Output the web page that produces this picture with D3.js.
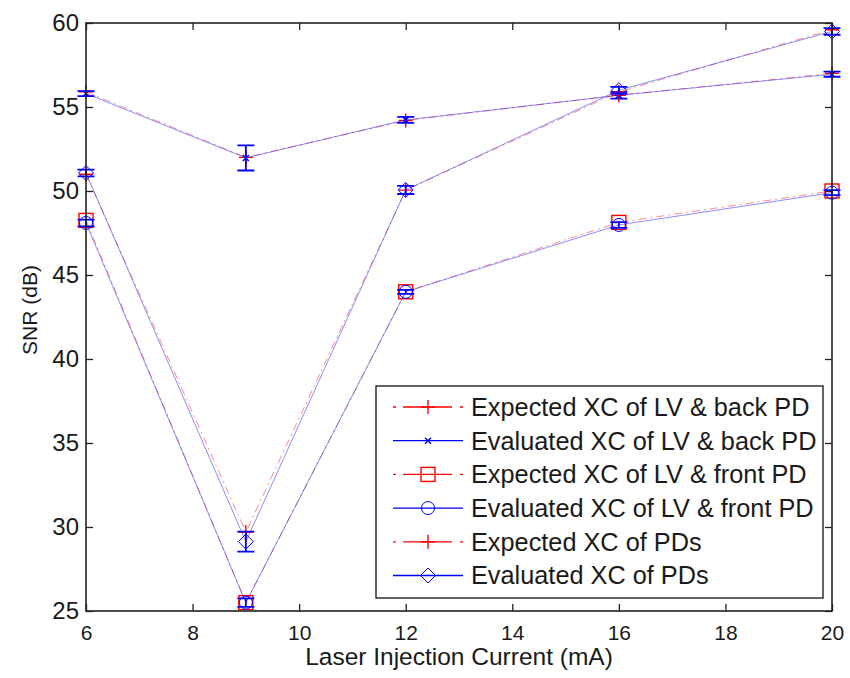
<!DOCTYPE html>
<html><head><meta charset="utf-8">
<script src="https://cdn.jsdelivr.net/npm/d3@7"></script>
<style>body{margin:0;background:#fff}svg{display:block}</style>
</head><body>
<svg id="c" width="850" height="678"></svg>
<script>
// ---- data ----
const currents = [6, 9, 12, 16, 20];
const expBack = [55.9, 52.0, 54.2, 55.7, 57.0];
const evalBack = [55.8, 51.97, 54.23, 55.7, 56.95];
const evalBackErr = [0.15, 0.75, 0.18, 0.2, 0.15];
const expFront = [48.25, 25.5, 44.0, 48.13, 50.0];
const evalFront = [48.1, 25.5, 44.0, 47.98, 49.9];
const evalFrontErr = [0.2, 0.25, 0.12, 0.17, 0.15];
const expPDs = [51.0, 29.7, 50.05, 55.9, 59.6];
const evalPDs = [51.07, 29.13, 50.06, 56.0, 59.5];
const evalPDsErr = [0.2, 0.6, 0.24, 0.2, 0.2];
const xTicks = [6, 8, 10, 12, 14, 16, 18, 20];
const yTicks = [25, 30, 35, 40, 45, 50, 55, 60];
const legendLabels = ["Expected XC of LV & back PD", "Evaluated XC of LV & back PD",
  "Expected XC of LV & front PD", "Evaluated XC of LV & front PD",
  "Expected XC of PDs", "Evaluated XC of PDs"];
const xTitle = "Laser Injection Current (mA)";
const yTitle = "SNR (dB)";

// ---- layout ----
const L = 86, R = 832, T = 23, B = 611;
const FONT = "'Liberation Sans', Arial, sans-serif";
const RED = "#ff0000", BLUE = "#0000ff";
const svg = d3.select("#c");
const x = d3.scaleLinear().domain([6, 20]).range([L, R]);
const y = d3.scaleLinear().domain([25, 60]).range([B, T]);

// marker shapes
function marker(g, type, cx, cy, color) {
  const s = g.append("g").attr("fill", "none").attr("stroke", color).attr("stroke-width", 1.4);
  if (type === "plus") {
    s.append("path").attr("d", `M${cx-7},${cy}H${cx+7}M${cx},${cy-7}V${cy+7}`);
  } else if (type === "x") {
    s.append("path").attr("d", `M${cx-3},${cy-3}L${cx+3},${cy+3}M${cx-3},${cy+3}L${cx+3},${cy-3}`);
  } else if (type === "square") {
    s.append("rect").attr("x", cx-7).attr("y", cy-7).attr("width", 14).attr("height", 14);
  } else if (type === "circle") {
    s.append("circle").attr("cx", cx).attr("cy", cy).attr("r", 6.5).attr("stroke-width", 1);
  } else if (type === "diamond") {
    s.append("path").attr("stroke-width", 1).attr("d", `M${cx},${cy-7.5}L${cx+7.5},${cy}L${cx},${cy+7.5}L${cx-7.5},${cy}Z`);
  }
}

const series = [
  {vals: expBack, color: RED, dash: "8,4,2,4", m: "plus"},
  {vals: evalBack, err: evalBackErr, color: BLUE, dash: null, m: "x"},
  {vals: expFront, color: RED, dash: "8,4,2,4", m: "square"},
  {vals: evalFront, err: evalFrontErr, color: BLUE, dash: null, m: "circle"},
  {vals: expPDs, color: RED, dash: "8,4,2,4", m: "plus"},
  {vals: evalPDs, err: evalPDsErr, color: BLUE, dash: null, m: "diamond"}
];

const line = d3.line().x((d, i) => x(currents[i])).y(d => y(d));
const plot = svg.append("g");
series.forEach(s => {
  plot.append("path").datum(s.vals).attr("d", line)
    .attr("fill", "none").attr("stroke", s.color).attr("stroke-width", 1)
    .attr("stroke-opacity", 0.45)
    .attr("stroke-dasharray", s.dash);
  if (s.err) {
    s.vals.forEach((v, i) => {
      const cx = x(currents[i]), y1 = y(v + s.err[i]), y2 = y(v - s.err[i]);
      plot.append("path").attr("fill", "none").attr("stroke", s.color).attr("stroke-width", 1.8)
        .attr("d", `M${cx},${y1}V${y2}M${cx-8.5},${y1}H${cx+8.5}M${cx-8.5},${y2}H${cx+8.5}`);
    });
  }
  s.vals.forEach((v, i) => marker(plot, s.m, x(currents[i]), y(v), s.color));
});

// ---- axes ----
const ax = svg.append("g").attr("font-family", FONT);
const gx = ax.append("g").attr("transform", `translate(0,${B})`)
  .call(d3.axisBottom(x).tickValues(xTicks).tickFormat(d3.format("d")).tickSizeInner(-7).tickSizeOuter(0).tickPadding(14));
gx.selectAll("text").attr("font-size", 21);
const gy = ax.append("g").attr("transform", `translate(${L},0)`)
  .call(d3.axisLeft(y).tickValues(yTicks).tickFormat(d3.format("d")).tickSizeInner(-7).tickSizeOuter(0).tickPadding(7));
gy.selectAll("text").attr("font-size", 24);
ax.append("g").attr("transform", `translate(0,${T})`)
  .call(d3.axisTop(x).tickValues(xTicks).tickFormat("").tickSizeInner(-7).tickSizeOuter(0));
ax.append("g").attr("transform", `translate(${R},0)`)
  .call(d3.axisRight(y).tickValues(yTicks).tickFormat("").tickSizeInner(-7).tickSizeOuter(0));
ax.selectAll(".domain").remove();
ax.selectAll("line").attr("stroke", "#222").attr("stroke-width", 1.3);
ax.selectAll("text").attr("fill", "#1a1a1a");
ax.append("rect").attr("x", L).attr("y", T).attr("width", R - L).attr("height", B - T)
  .attr("fill", "none").attr("stroke", "#222").attr("stroke-width", 1.6);

svg.append("text").attr("x", (L + R) / 2).attr("y", 665).attr("text-anchor", "middle")
  .attr("font-family", FONT).attr("font-size", 24.5).attr("fill", "#1a1a1a").text(xTitle);
svg.append("text").attr("transform", "translate(37,310) rotate(-90)").attr("text-anchor", "middle")
  .attr("font-family", FONT).attr("font-size", 21).attr("fill", "#1a1a1a").text(yTitle);

// ---- legend ----
const lg = svg.append("g");
lg.append("rect").attr("x", 376).attr("y", 386).attr("width", 447).attr("height", 212)
  .attr("fill", "#fff").attr("stroke", "#222").attr("stroke-width", 1.4);
series.forEach((s, i) => {
  const cy = 407 + i * 33.7;
  lg.append("line").attr("x1", 393).attr("x2", 463).attr("y1", cy).attr("y2", cy)
    .attr("stroke", s.color).attr("stroke-width", 1.3)
    .attr("stroke-dasharray", s.dash ? "3,7,49,8,3" : null);
  marker(lg, s.m, 428, cy, s.color);
  lg.append("text").attr("x", 471).attr("y", cy).attr("dy", "0.35em")
    .attr("font-family", FONT).attr("font-size", 25.3).attr("fill", "#1a1a1a").text(legendLabels[i]);
});
</script>
</body></html>
